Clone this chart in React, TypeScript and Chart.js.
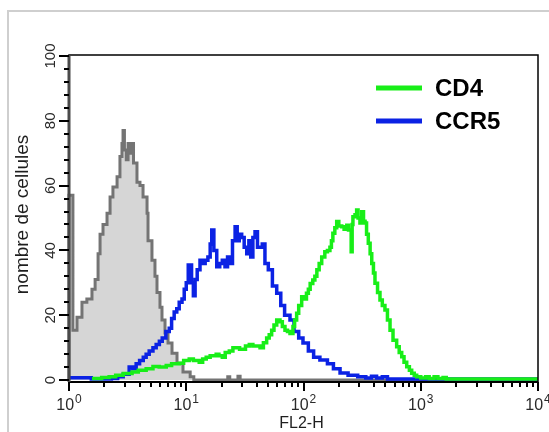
import React, { useEffect, useRef } from 'react';
import { Chart, registerables } from 'chart.js';

Chart.register(...registerables);

const FONT = '"Liberation Sans", Arial, Helvetica, sans-serif';

// ---- data (FL2-H channel value, cell count) ----
const GRAY_X = [1, 1, 1.08, 1.17, 1.29, 1.42, 1.57, 1.67, 1.77, 1.84, 1.95, 2.11, 2.24, 2.37, 2.57, 2.72, 2.83, 2.89, 2.97, 3.08, 3.19, 3.3, 3.45, 3.55, 3.8, 4.03, 4.28, 4.63, 4.72, 5.1, 5.41, 5.63, 5.97, 6.21, 6.59, 6.99, 7.56, 8.34, 9.38, 10.8, 11.6, 22, 22.6, 23.5, 27, 27.6, 28.8, 10000];
const GRAY_Y = [0, 57, 15.4, 19.4, 24, 25, 28, 31, 39, 45, 48, 51.5, 56.5, 59.6, 62.7, 69, 73, 77, 71, 68, 73, 70, 73, 67, 61, 60, 56.5, 51.5, 43, 37, 32, 27, 22.5, 18.5, 14.5, 11.4, 8.3, 5.2, 2.5, 1, 0, 0, 1, 0, 0, 1.2, 0, 0];

const BLUE_X = [1, 1.55, 2.3, 2.6, 2.9, 3.26, 3.5, 3.74, 4.0, 4.3, 4.55, 4.83, 5.2, 5.54, 5.9, 6.24, 6.7, 7.16, 7.5, 7.89, 8.3, 8.71, 9.2, 9.61, 10.0, 10.4, 11.1, 11.5, 11.9, 12.4, 13.1, 13.8, 14.5, 15.3, 16.0, 16.5, 17.2, 18.2, 19.3, 20.3, 21.4, 22.5, 23.6, 24.8, 26.1, 27.2, 28.3, 29.7, 31.2, 32.8, 34.2, 35.5, 37, 38.6, 40.5, 42.6, 44.5, 46.9, 50.1, 54.3, 59.1, 64, 69, 76.7, 83, 91, 99, 110, 122, 138, 160, 180, 205, 240, 290, 340, 380, 420, 470, 520, 10000];
const BLUE_Y = [0.7, 0.3, 0.5, 1, 1.8, 4, 3.5, 5, 6, 7, 8, 9, 10, 11, 12, 13, 15, 16, 19, 21, 22, 24, 25, 28, 30, 35.5, 30, 26, 31, 34, 37, 36, 37, 38, 42, 46.3, 40, 35, 36, 37, 35, 38, 36, 43, 47.3, 43, 45, 44, 41, 39, 43, 38, 44, 45.8, 41, 41, 42, 36, 34, 29, 26.8, 23, 20, 18.5, 15, 13, 11.4, 9, 7, 6.2, 5, 3.5, 2.2, 1.5, 1, 0.6, 1.2, 0.6, 1, 0.3, 0];

const GREEN_X = [1.57, 1.9, 2.2, 2.5, 2.9, 3.45, 3.9, 4.55, 5.2, 5.88, 6.75, 7.5, 8.71, 9.5, 10.6, 11.5, 12.9, 13.8, 14.8, 16, 18, 19, 20.3, 21.5, 23.3, 25, 26.8, 28.5, 30.1, 32, 34.5, 37, 39.6, 42.6, 45.5, 48.5, 51, 53.5, 56, 59.1, 63, 66, 69.5, 73, 76.7, 81.3, 84, 87.4, 91, 96.5, 101, 106, 110, 114, 120, 125, 130, 136, 143, 152, 160, 168, 173, 178, 185, 192, 200, 212, 222, 234, 242, 249, 255, 260, 264, 275, 284, 292, 303, 314, 325, 335, 345, 357, 370, 382, 395, 407, 428, 449, 470, 495, 520, 547, 580, 623, 655, 688, 720, 759, 800, 837, 880, 923, 1000, 1100, 1180, 1300, 1400, 1550, 1650, 10000];
const GREEN_Y = [0.5, 0.8, 1, 1.5, 2, 2.5, 3, 3.5, 4.2, 4, 4.5, 5, 5.2, 6, 6.5, 6, 5.5, 6.5, 7, 7.5, 8, 7.5, 7, 8.5, 9, 10, 10, 9.5, 9.5, 10.5, 11, 10.5, 10.5, 10, 11.5, 13, 14, 15.4, 17, 18.5, 18, 16.5, 15.4, 15, 14.4, 16.5, 18.5, 20.6, 23, 25.7, 25, 26.8, 28, 29.8, 30.9, 32, 34, 36, 38, 39.6, 40, 41, 43, 45.3, 47, 48.9, 47.5, 47.3, 46.5, 47.8, 46.3, 46.3, 39.6, 48, 50.4, 51, 52.5, 50, 48.5, 51.9, 49, 48.5, 45, 42.2, 39, 36, 33, 29.9, 27, 24.7, 23, 21.6, 18.5, 15.4, 12.3, 10.3, 8.5, 7.2, 5.5, 4.1, 3, 2.1, 1.5, 1, 0.6, 1, 0.5, 1, 0.5, 0.8, 0.3, 0.3];

const SERIES_LABELS = ['CD4', 'CCR5', ''];

// ---- axes ----
const X_DECADES = [1, 10, 100, 1000, 10000];
const X_EXPONENTS = ['0', '1', '2', '3', '4'];
const X_MINOR_MULTIPLES = [2, 3, 4, 5, 6, 7, 8, 9];
const Y_LABELS = [0, 20, 40, 60, 80, 100];
const Y_MINOR_TICKS = [4, 8, 12, 16, 24, 28, 32, 36, 44, 48, 52, 56, 64, 68, 72, 76, 84, 88, 92, 96];
const X_TITLE = 'FL2-H';
const Y_TITLE = 'nombre de cellules';

const GREEN = '#18ee18';
const BLUE = '#0b22e4';
const GRAY_LINE = '#747474';
const GRAY_FILL = '#d6d6d6';

function pts(xs: number[], ys: number[]) {
  return xs.map((x, i) => ({ x, y: ys[i] }));
}

const flowAxes = {
  id: 'flowAxes',
  beforeDraw(chart: any) {
    const ctx = chart.ctx;
    ctx.save();
    ctx.fillStyle = '#ffffff';
    ctx.fillRect(0, 0, chart.width, chart.height);
    ctx.strokeStyle = '#cfcfcf';
    ctx.lineWidth = 2;
    ctx.strokeRect(8, 11, 900, 900);
    ctx.restore();
  },
  afterDatasetsDraw(chart: any) {
    const ctx = chart.ctx;
    const a = chart.chartArea;
    const xs = chart.scales.x;
    const ys = chart.scales.y;
    ctx.save();
    // frame
    ctx.strokeStyle = '#000';
    ctx.lineWidth = 1.5;
    ctx.strokeRect(a.left, a.top, a.right - a.left, a.bottom - a.top);
    ctx.lineWidth = 2;
    ctx.beginPath();
    ctx.moveTo(a.right, a.bottom);
    ctx.lineTo(a.left, a.bottom);
    ctx.stroke();
    ctx.strokeStyle = '#4a4a4a';
    ctx.lineWidth = 3;
    ctx.beginPath();
    ctx.moveTo(a.left, a.top);
    ctx.lineTo(a.left, a.bottom);
    ctx.stroke();

    // y ticks
    ctx.strokeStyle = '#000';
    ctx.lineWidth = 2;
    ctx.beginPath();
    Y_LABELS.forEach((v) => {
      const py = Math.round(ys.getPixelForValue(v));
      ctx.moveTo(a.left, py);
      ctx.lineTo(a.left - 10, py);
    });
    Y_MINOR_TICKS.forEach((v) => {
      const py = Math.round(ys.getPixelForValue(v));
      ctx.moveTo(a.left, py);
      ctx.lineTo(a.left - 5, py);
    });
    ctx.stroke();

    // x ticks
    ctx.beginPath();
    X_DECADES.forEach((v, i) => {
      const px = Math.round(xs.getPixelForValue(v));
      ctx.moveTo(px, a.bottom);
      ctx.lineTo(px, a.bottom + 9);
      if (i < X_DECADES.length - 1) {
        X_MINOR_MULTIPLES.forEach((m) => {
          const qx = Math.round(xs.getPixelForValue(v * m));
          ctx.moveTo(qx, a.bottom);
          ctx.lineTo(qx, a.bottom + 5);
        });
      }
    });
    ctx.stroke();

    // x tick labels (10 with superscript exponent)
    ctx.fillStyle = '#2a2a2a';
    ctx.textAlign = 'left';
    ctx.textBaseline = 'alphabetic';
    X_DECADES.forEach((v, i) => {
      const px = xs.getPixelForValue(v);
      ctx.font = `16px ${FONT}`;
      const w1 = ctx.measureText('10').width;
      ctx.font = `12px ${FONT}`;
      const w2 = ctx.measureText(X_EXPONENTS[i]).width;
      const start = px - (w1 + 1 + w2) / 2;
      ctx.font = `16px ${FONT}`;
      ctx.fillText('10', start, a.bottom + 28);
      ctx.font = `12px ${FONT}`;
      ctx.fillText(X_EXPONENTS[i], start + w1 + 1, a.bottom + 21);
    });

    // y tick labels (rotated)
    ctx.font = `15px ${FONT}`;
    ctx.textAlign = 'center';
    ctx.textBaseline = 'middle';
    Y_LABELS.forEach((v) => {
      const py = ys.getPixelForValue(v);
      ctx.save();
      ctx.translate(a.left - 18, py);
      ctx.rotate(-Math.PI / 2);
      ctx.fillText(String(v), 0, 0);
      ctx.restore();
    });

    // axis titles
    ctx.fillStyle = '#1e1e1e';
    ctx.font = `16px ${FONT}`;
    ctx.textAlign = 'center';
    ctx.textBaseline = 'alphabetic';
    ctx.fillText(X_TITLE, (a.left + a.right) / 2 - 2, a.bottom + 46);
    ctx.save();
    ctx.font = `19px ${FONT}`;
    ctx.textBaseline = 'middle';
    ctx.translate(a.left - 46, (a.top + a.bottom) / 2 - 4);
    ctx.rotate(-Math.PI / 2);
    ctx.fillText(Y_TITLE, 0, 0);
    ctx.restore();

    // legend
    const legendItems = chart.data.datasets.filter((d: any) => d.label);
    legendItems.forEach((d: any, i: number) => {
      const y = a.top + 33 + i * 33;
      ctx.strokeStyle = d.borderColor;
      ctx.lineWidth = 5;
      ctx.beginPath();
      ctx.moveTo(a.right - 162, y);
      ctx.lineTo(a.right - 116, y);
      ctx.stroke();
      ctx.fillStyle = '#000';
      ctx.font = `bold 24px ${FONT}`;
      ctx.textAlign = 'left';
      ctx.textBaseline = 'middle';
      ctx.fillText(d.label, a.right - 103, y + 1);
    });
    ctx.restore();
  },
};

export default function App() {
  const ref = useRef<HTMLCanvasElement | null>(null);
  useEffect(() => {
    if (!ref.current) return;
    const chart = new Chart(ref.current, {
      type: 'line',
      data: {
        datasets: [
          {
            label: SERIES_LABELS[0],
            data: pts(GREEN_X, GREEN_Y),
            borderColor: GREEN,
            borderWidth: 3.5,
            stepped: true,
            pointRadius: 0,
            fill: false,
            order: 0,
          },
          {
            label: SERIES_LABELS[1],
            data: pts(BLUE_X, BLUE_Y),
            borderColor: BLUE,
            borderWidth: 3.5,
            stepped: true,
            pointRadius: 0,
            fill: false,
            order: 1,
          },
          {
            label: SERIES_LABELS[2],
            data: pts(GRAY_X, GRAY_Y),
            borderColor: GRAY_LINE,
            backgroundColor: GRAY_FILL,
            borderWidth: 3,
            stepped: true,
            pointRadius: 0,
            fill: 'origin',
            order: 2,
            clip: { left: 3, top: 0, right: 0, bottom: 2 },
          },
        ],
      } as any,
      options: {
        responsive: false,
        animation: false,
        devicePixelRatio: 1,
        layout: { padding: { left: 69, top: 55, right: 11, bottom: 50 } },
        scales: {
          x: { type: 'logarithmic', min: 1, max: 10000, display: false },
          y: { type: 'linear', min: -0.6, max: 100.3, display: false },
        },
        plugins: {
          legend: { display: false },
          tooltip: { enabled: false },
        },
        events: [],
      } as any,
      plugins: [flowAxes],
    });
    return () => chart.destroy();
  }, []);
  return (
    <div style={{ position: 'fixed', left: 0, top: 0, width: 549, height: 432, background: '#fff', overflow: 'hidden' }}>
      <canvas ref={ref} width={549} height={432} style={{ display: 'block' }} />
    </div>
  );
}
